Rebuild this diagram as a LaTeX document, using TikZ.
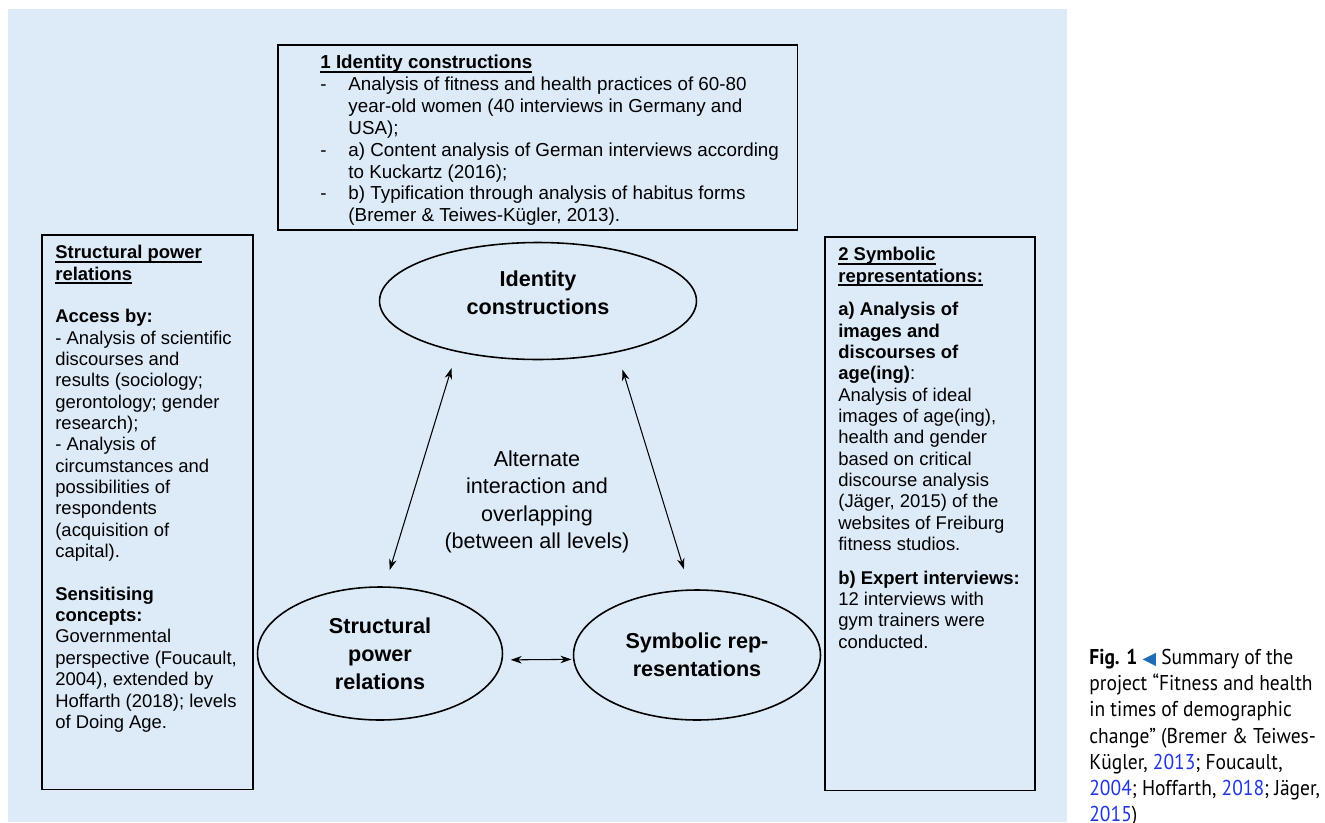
\documentclass[tikz,border=0pt]{standalone}
\usepackage{fontspec}
\setmainfont{Liberation Sans}
\newfontfamily\capfont[FakeStretch=0.91]{PT Sans}
\newfontfamily\symfont{DejaVu Sans}
\usetikzlibrary{arrows.meta,positioning,calc,shapes.geometric}
\definecolor{panelbg}{HTML}{DDEAF7}
\definecolor{figblue}{HTML}{1F6DB4}
\definecolor{citeblue}{HTML}{1F35E0}
\newcommand{\undl}[1]{\setbox0\hbox{#1}\rlap{\rule[-2.2pt]{\wd0}{0.9pt}}\box0}
\newcommand{\cyr}[1]{{\color{citeblue}#1}}
\tikzset{
  frame/.style={draw, line width=0.9pt, inner sep=0pt, anchor=north west},
  txt/.style={inner sep=0pt, anchor=north west, align=left, font=\fontsize{10.5}{12.15}\selectfont},
  oval/.style={draw, ellipse, line width=0.9pt, inner sep=0pt, align=center, font=\bfseries\fontsize{12.3}{15.9}\selectfont},
  arr/.style={{Stealth[length=2.2mm,width=1.5mm]}-{Stealth[length=2.2mm,width=1.5mm]}, line width=0.6pt},
}

\begin{document}
\begin{tikzpicture}[x=0.02cm, y=-0.02cm]
  \useasboundingbox (0,0) rectangle (1325,822);
  \fill[panelbg] (8,9) rectangle (1067,822);

  \node[frame, minimum width=10.4cm, minimum height=3.7cm] (topbox) at (277,44) {};
  \node[frame, minimum width=4.22cm, minimum height=11.1cm] (lbox) at (41,234) {};
  \node[frame, minimum width=4.2cm, minimum height=11.08cm] (rbox) at (824,236) {};

  \node[txt, font=\fontsize{10.7}{12.45}\selectfont] (toptxt) at (320,53) {%
    \begin{tabular}{@{}p{16pt}@{}l@{}}
    \multicolumn{2}{@{}l@{}}{\undl{\textbf{1 Identity constructions}}}\\
    - & Analysis of fitness and health practices of 60-80\\
      & year-old women (40 interviews in Germany and\\
      & USA);\\
    - & a) Content analysis of German interviews according\\
      & to Kuckartz (2016);\\
    - & b) Typification through analysis of habitus forms\\
      & (Bremer \& Teiwes-Kügler, 2013).
    \end{tabular}};

  \node[txt] (ltxt) at (55,245) {%
    \undl{\textbf{Structural power}}\\
    \undl{\textbf{relations}}\\[12.15pt]
    \textbf{Access by:}\\
    - Analysis of scientific\\
    discourses and\\
    results (sociology;\\
    gerontology; gender\\
    research);\\
    - Analysis of\\
    circumstances and\\
    possibilities of\\
    respondents\\
    (acquisition of\\
    capital).\\[12.15pt]
    \textbf{Sensitising}\\
    \textbf{concepts:}\\
    Governmental\\
    perspective (Foucault,\\
    2004), extended by\\
    Hoffarth (2018); levels\\
    of Doing Age.};

  \node[txt] (rtxt) at (838,247) {%
    \undl{\textbf{2 Symbolic}}\\
    \undl{\textbf{representations:}}\\[7pt]
    \textbf{a) Analysis of}\\
    \textbf{images and}\\
    \textbf{discourses of}\\
    \textbf{age(ing)}:\\
    Analysis of ideal\\
    images of age(ing),\\
    health and gender\\
    based on critical\\
    discourse analysis\\
    (Jäger, 2015) of the\\
    websites of Freiburg\\
    fitness studios.\\[7pt]
    \textbf{b) Expert interviews:}\\
    12 interviews with\\
    gym trainers were\\
    conducted.};

  \node[oval, minimum width=6.34cm, minimum height=2.34cm] (ident) at (538,301) {Identity\\constructions\rule[-9pt]{0pt}{0pt}};
  \node[oval, minimum width=4.9cm, minimum height=2.66cm] (struct) at (380,653.5) {Structural\\power\\relations};
  \node[oval, minimum width=4.94cm, minimum height=2.6cm] (symb) at (697,655) {Symbolic rep-\\resentations};

  \node[align=center, inner sep=0pt, font=\fontsize{12.3}{15.6}\selectfont] (mid) at (537,502) {Alternate\\interaction and\\overlapping\\(between all levels)};

  \draw[arr, shorten <=0.34cm, shorten >=0.34cm] (ident.212) -- (struct.86.5);
  \draw[arr, shorten <=0.36cm, shorten >=0.42cm] (ident.327.7) -- (symb.96.2);
  \draw[arr, shorten <=0.16cm, shorten >=0.03cm] (struct.-3) -- (symb.182);

  \node[txt, font=\capfont\fontsize{12.2}{14.9}\selectfont] (caption) at (1089,649) {%
    \textbf{Fig. 1} {\color{figblue}\symfont\fontsize{10}{10}\selectfont ◀} Summary of the\\
    project “Fitness and health\\
    in times of demographic\\
    change” (Bremer \& Teiwes-\\
    Kügler, \cyr{2013}; Foucault,\\
    \cyr{2004}; Hoffarth, \cyr{2018}; Jäger,\\
    \cyr{2015})};
\end{tikzpicture}
\end{document}
